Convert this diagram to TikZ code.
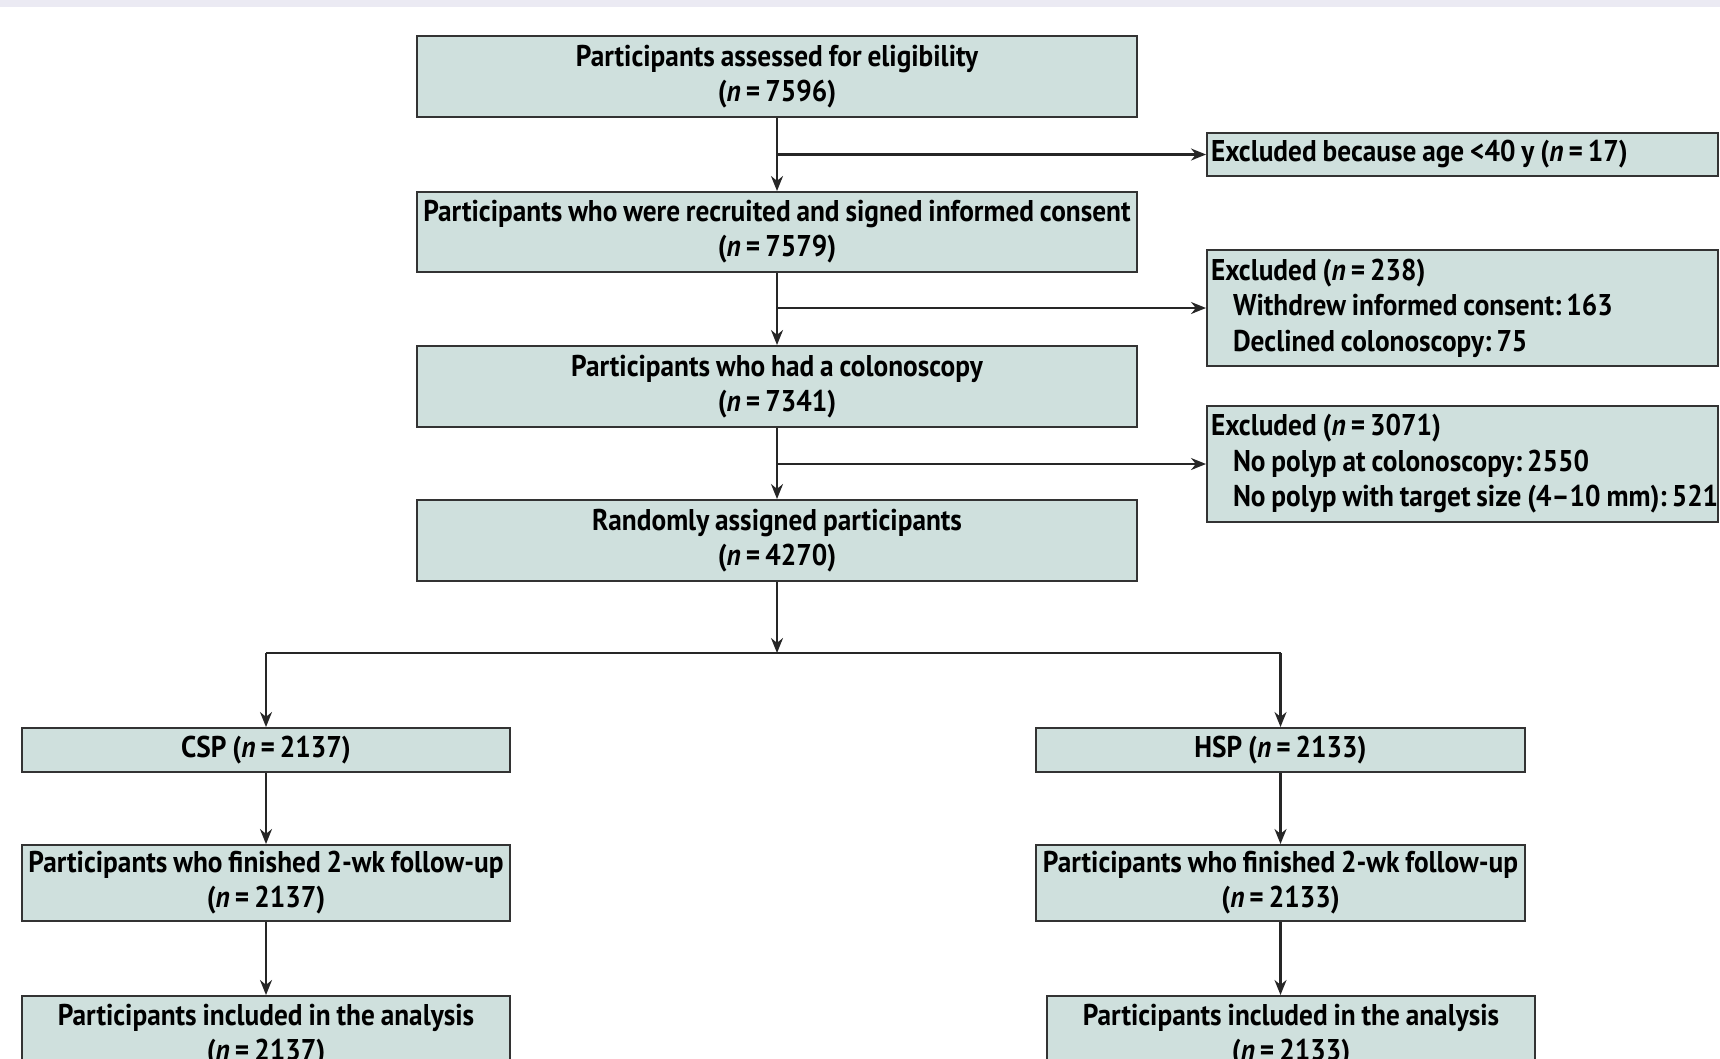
\documentclass[tikz,border=0pt]{standalone}
\usepackage{fontspec}
\setmainfont{PT Sans}[FakeStretch=0.91, WordSpace=0.85]
\usetikzlibrary{arrows.meta}
\definecolor{boxfill}{HTML}{CFE0DD}
\definecolor{boxline}{HTML}{333333}
\definecolor{topband}{HTML}{EBEAF3}
\tikzset{
  flowbox/.style={draw=boxline, line width=2pt, fill=boxfill, align=center,
    inner sep=0pt, font=\fontsize{30}{35}\selectfont\bfseries},
  exbox/.style={draw=boxline, line width=2pt, fill=boxfill, align=flush left,
    inner sep=0pt, font=\fontsize{30}{35.5}\selectfont\bfseries},
  conn/.style={draw=black!85, line width=2.1pt},
  arr/.style={conn, -{Stealth[length=15pt,width=12pt]}}
}
\newcommand{\nn}[1]{(\textit{n}\,=\,#1)}
\begin{document}
\begin{tikzpicture}[x=1pt,y=-1pt]
\useasboundingbox (0,0) rectangle (1720,1058);
\clip (0,0) rectangle (1720,1058);
\fill[white] (0,0) rectangle (1720,1058);
\fill[topband] (0,0) rectangle (1720,7);

\node[flowbox, minimum width=720pt, minimum height=81pt] (b1) at (777,76.5)
  {Participants assessed for eligibility\\\nn{7596}};
\node[flowbox, minimum width=720pt, minimum height=80pt] (b2) at (777,232)
  {Participants who were recruited and signed informed consent\\\nn{7579}};
\node[flowbox, minimum width=720pt, minimum height=81pt] (b3) at (777,386.5)
  {Participants who had a colonoscopy\\\nn{7341}};
\node[flowbox, minimum width=720pt, minimum height=81pt] (b4) at (777,540.5)
  {Randomly assigned participants\\\nn{4270}};

\node[exbox, minimum width=511pt, minimum height=43pt, text width=503pt] (e1) at (1462.5,154.5)
  {Excluded because age <40 y \nn{17}};
\node[exbox, minimum width=511pt, minimum height=116pt, text width=503pt] (e2) at (1462.5,308)
  {Excluded \nn{238}\\\hspace*{22pt}Withdrew informed consent:\,163\\\hspace*{22pt}Declined colonoscopy:\,75};
\node[exbox, minimum width=511pt, minimum height=116pt, text width=503pt] (e3) at (1462.5,464)
  {Excluded \nn{3071}\\\hspace*{22pt}No polyp at colonoscopy:\,2550\\\hspace*{22pt}\makebox[470pt][l]{No polyp with target size (4–10 mm):\,521}};

\node[flowbox, minimum width=488pt, minimum height=44pt] (csp) at (266,750)
  {CSP \nn{2137}};
\node[flowbox, minimum width=489pt, minimum height=44pt] (hsp) at (1280.5,750)
  {HSP \nn{2133}};
\node[flowbox, minimum width=488pt, minimum height=76pt] (f1) at (266,883)
  {Participants who finished 2-wk follow-up\\\nn{2137}};
\node[flowbox, minimum width=489pt, minimum height=76pt] (f2) at (1280.5,883)
  {Participants who finished 2-wk follow-up\\\nn{2133}};
\node[flowbox, minimum width=488pt, minimum height=80pt] (a1) at (266,1036)
  {Participants included in the analysis\\\nn{2137}};
\node[flowbox, minimum width=488pt, minimum height=80pt] (a2) at (1291,1036)
  {Participants included in the analysis\\\nn{2133}};

\draw[arr] (b1.south) -- (b2.north);
\draw[arr] (b2.south) -- (b3.north);
\draw[arr] (b3.south) -- (b4.north);
\draw[arr] (b1.south |- e1.west) -- (e1.west);
\draw[arr] (b2.south |- e2.west) -- (e2.west);
\draw[arr] (b3.south |- e3.west) -- (e3.west);

\coordinate (sp) at (777,653);
\coordinate (spl) at (csp.north |- sp);
\coordinate (spr) at (hsp.north |- sp);
\draw[arr] (b4.south) -- (sp);
\draw[conn] (spl) -- (spr);
\draw[arr] (spl) -- (csp.north);
\draw[arr] (spr) -- (hsp.north);
\draw[arr] (csp.south) -- (f1.north);
\draw[arr] (hsp.south) -- (f2.north);
\draw[arr] (f1.south) -- (a1.north);
\draw[arr] (f2.south) -- (f2.south |- a2.north);
\end{tikzpicture}
\end{document}
